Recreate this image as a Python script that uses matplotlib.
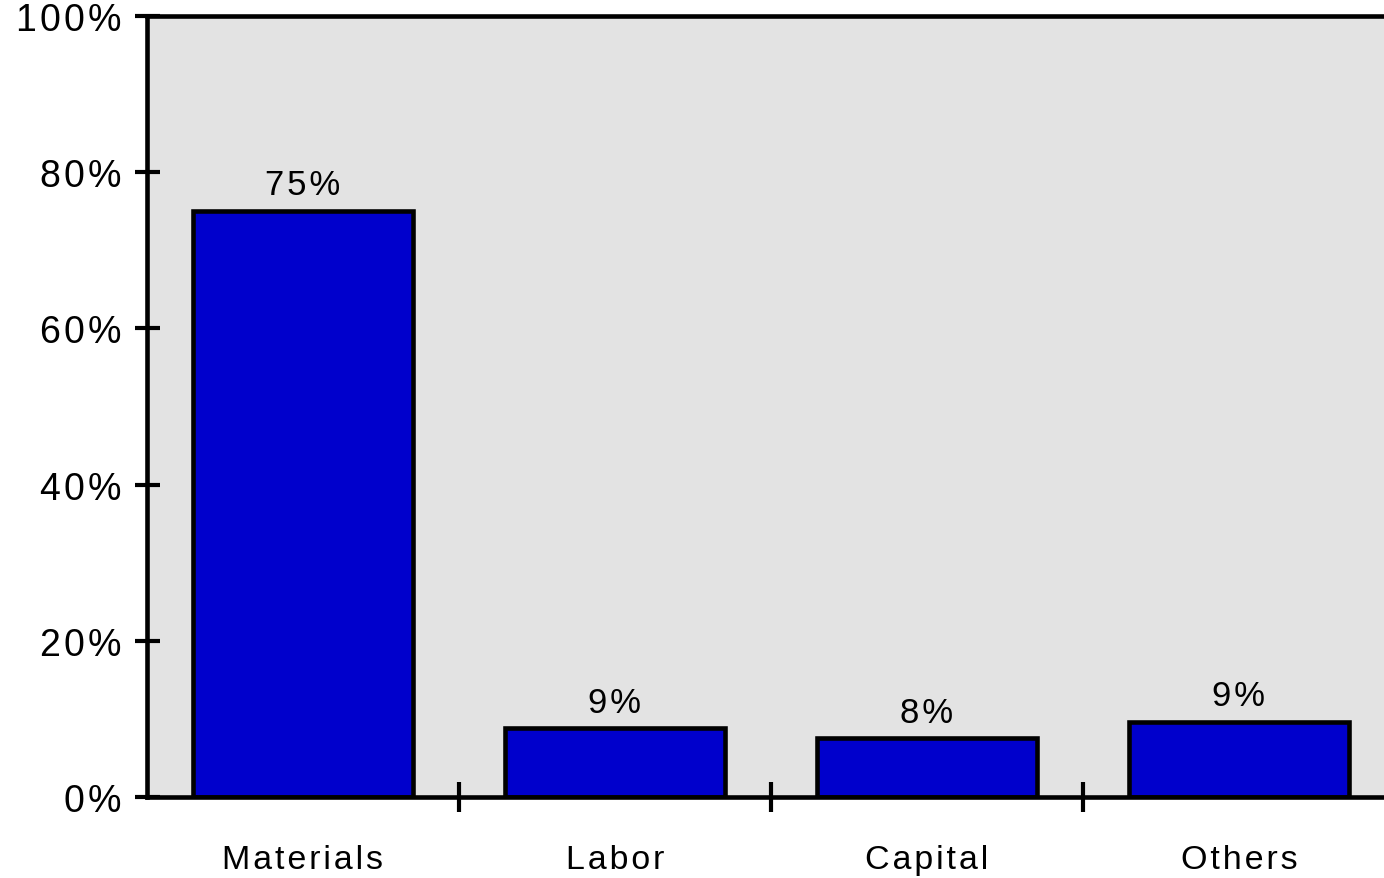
"""Cost share bar chart: materials, labor, capital, others."""

import matplotlib

matplotlib.use("Agg")
import matplotlib.pyplot as plt
from matplotlib.ticker import FixedLocator

CATEGORIES = ["Materials", "Labor", "Capital", "Others"]
SHARES = [75.0, 8.8, 7.5, 9.6]
LABELS = ["75%", "9%", "8%", "9%"]
Y_TICKS = [0, 20, 40, 60, 80, 100]

BAR_COLOR = "#0000CC"
BG_COLOR = "#E3E3E3"
HAIR = "\u200a"

plt.rcParams["font.family"] = ["Liberation Sans", "DejaVu Sans"]


def spaced(text: str) -> str:
    # the original renders text with slightly wide letter spacing
    return HAIR.join(text)


def main() -> None:
    fig = plt.figure(figsize=(13.84, 8.79), dpi=100)
    ax = fig.add_axes([0.1062, 0.0922, 0.9017, 0.8885])
    ax.set_facecolor(BG_COLOR)

    positions = list(range(len(CATEGORIES)))
    bars = ax.bar(
        positions,
        SHARES,
        width=0.705,
        color=BAR_COLOR,
        edgecolor="black",
        linewidth=3.3,
        zorder=3,
    )
    for bar, label in zip(bars, LABELS):
        ax.annotate(
            spaced(label),
            (bar.get_x() + bar.get_width() / 2, bar.get_height()),
            xytext=(0, 7),
            textcoords="offset points",
            ha="center",
            va="bottom",
            fontsize=25,
        )

    ax.set_xlim(-0.5, len(CATEGORIES) - 0.5)
    ax.set_ylim(0, 100)

    ax.set_xticks(positions)
    ax.set_xticklabels([spaced(c) for c in CATEGORIES], fontsize=24.5)
    ax.tick_params(axis="x", which="major", length=0, pad=34)
    ax.xaxis.set_minor_locator(FixedLocator([p + 0.5 for p in positions[:-1]]))
    ax.tick_params(axis="x", which="minor", direction="inout", length=22, width=3)

    ax.set_yticks(Y_TICKS)
    ax.set_yticklabels([spaced(f"{t}%") for t in Y_TICKS], fontsize=27)
    ax.tick_params(axis="y", direction="inout", length=18, width=3, pad=9)

    for side in ("left", "bottom", "top"):
        ax.spines[side].set_linewidth(3.3)
        ax.spines[side].set_zorder(4)
    ax.spines["right"].set_visible(False)

    fig.savefig("out.png", dpi=100)


if __name__ == "__main__":
    main()
